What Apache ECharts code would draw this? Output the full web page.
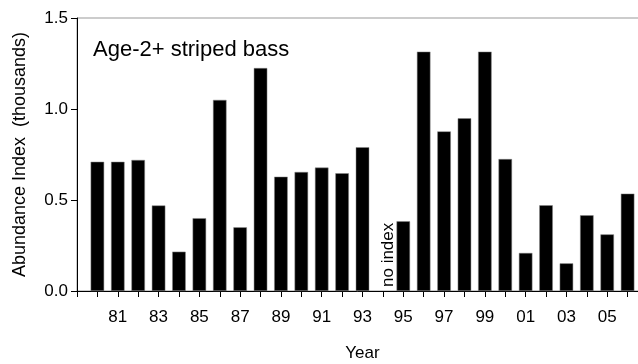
<!DOCTYPE html>
<html>
<head>
<meta charset="utf-8">
<script src="https://cdn.jsdelivr.net/npm/echarts@6/dist/echarts.min.js"></script>
<style>
html,body{margin:0;padding:0;background:#fff;}
#chart{width:638px;height:364px;}
</style>
</head>
<body>
<div id="chart"></div>
<script>
// Data
var years = [1980,1981,1982,1983,1984,1985,1986,1987,1988,1989,1990,1991,1992,1993,
             1995,1996,1997,1998,1999,2000,2001,2002,2003,2004,2005,2006];
var abundance = [0.71,0.71,0.72,0.47,0.216,0.40,1.05,0.35,1.225,0.628,0.654,0.678,0.647,0.79,
                 0.383,1.315,0.877,0.949,1.315,0.725,0.209,0.471,0.152,0.416,0.311,0.535];
var noIndexYear = 1994;
var yTicks = [0, 0.5, 1.0, 1.5];
var titleText = 'Age-2+ striped bass';

var FONT = 'Liberation Sans, Arial, sans-serif';
var chart = echarts.init(document.getElementById('chart'), null, {renderer:'canvas'});
var seriesData = years.map(function(y, i){ return [y, abundance[i]]; });

chart.setOption({
  animation: false,
  backgroundColor: '#fff',
  title: {
    text: titleText, left: 88, top: 34,
    textStyle: {fontFamily: FONT, fontSize: 22, fontWeight: 'normal', color: '#000'}
  },
  grid: {left: 77, width: 571, top: 18, height: 273, outerBoundsMode: 'none', containLabel: false,
         show: true, borderColor: '#999', borderWidth: 1},
  xAxis: {
    type: 'value', min: 1979, max: 2007, interval: 1,
    name: 'Year', nameLocation: 'middle', nameGap: 54,
    nameTextStyle: {fontFamily: FONT, fontSize: 17, color: '#000'},
    axisLine: {show: true, lineStyle: {color: '#000', width: 1}},
    axisTick: {show: true, inside: false, length: 6, lineStyle: {color: '#000'}},
    splitLine: {show: false},
    axisLabel: {
      fontFamily: FONT, fontSize: 17, color: '#000', margin: 18,
      formatter: function(v){
        if (v < 1980 || v > 2006 || v % 2 === 0) return '';
        return String(v % 100).padStart(2, '0');
      }
    }
  },
  yAxis: {
    type: 'value', min: yTicks[0], max: yTicks[yTicks.length-1], interval: 0.5,
    name: 'Abundance Index  (thousands)', nameLocation: 'middle', nameGap: 48,
    nameTextStyle: {fontFamily: FONT, fontSize: 18, color: '#000'},
    axisLine: {show: true, lineStyle: {color: '#000', width: 1}},
    axisTick: {show: true, inside: false, length: 6, lineStyle: {color: '#000'}},
    splitLine: {show: false},
    axisLabel: {
      fontFamily: FONT, fontSize: 17, color: '#000', margin: 9,
      formatter: function(v){ return v.toFixed(1); }
    }
  },
  series: [{
    type: 'bar',
    data: seriesData,
    barWidth: 13.5,
    itemStyle: {color: '#000', borderColor: '#888', borderWidth: 0.5},
    markPoint: {
      symbol: 'circle', symbolSize: 0,
      data: [{coord: [noIndexYear, 0], value: 'no index'}],
      label: {
        show: true, formatter: 'no index', rotate: 90,
        position: 'inside', align: 'left', verticalAlign: 'middle',
        offset: [4, 5.5],
        fontFamily: FONT, fontSize: 17, color: '#000'
      }
    }
  }]
});
</script>
</body>
</html>
